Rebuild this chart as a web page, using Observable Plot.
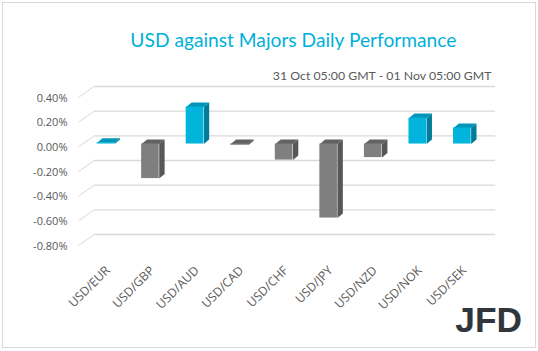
<!DOCTYPE html>
<html>
<head>
<meta charset="utf-8">
<script src="https://cdn.jsdelivr.net/npm/d3@7"></script>
<script src="https://cdn.jsdelivr.net/npm/@observablehq/plot@0.6"></script>
<style>
  html, body { margin: 0; padding: 0; background: #fff; }
  #wrap { position: relative; width: 538px; height: 351px; overflow: hidden; background: #fff; }
  #frame { position: absolute; left: 2px; top: 2px; width: 532px; height: 344px; border: 1px solid #d9d9d9; box-sizing: content-box; }
  #chart { position: absolute; left: 0; top: 0; }
  #over { position: absolute; left: 0; top: 0; pointer-events: none; }
</style>
</head>
<body>
<div id="wrap">
  <div id="frame"></div>
  <div id="chart"></div>
  <svg id="over" width="538" height="351">
    <text id="title" x="293.4" y="47" text-anchor="middle" fill="#00B0DA" font-family="Lato" font-size="19.2">USD against Majors Daily Performance</text>
    <text id="subtitle" x="491.4" y="79.5" text-anchor="end" fill="#595959" font-family="Lato" font-size="12.3">31 Oct 05:00 GMT - 01 Nov 05:00 GMT</text>
    <text id="logo" x="522" y="332.3" text-anchor="end" fill="#30363c" font-family="Liberation Sans" font-weight="bold" font-size="35" textLength="66.7" lengthAdjust="spacingAndGlyphs">JFD</text>
  </svg>
</div>
<script>
// ---- data ----
const categories = ["USD/EUR", "USD/GBP", "USD/AUD", "USD/CAD", "USD/CHF", "USD/JPY", "USD/NZD", "USD/NOK", "USD/SEK"];
const values = [0.01, -0.28, 0.30, -0.01, -0.13, -0.60, -0.11, 0.21, 0.13];
const yTicks = [0.4, 0.2, 0, -0.2, -0.4, -0.6, -0.8];

// ---- 3D geometry (pixel sizes converted into data units) ----
const bandPx = 44.56, unitPx = 123.3;
const wall = {dx: 15.7 / bandPx, dy: 11 / unitPx};
const barOff = {dx: 5.1 / bandPx, dy: 2.8 / unitPx};
const barDepth = {dx: 5.4 / bandPx, dy: 4.6 / unitPx};
const barHalf = 8.8 / bandPx;

const colors = {
  pos: {front: "#00B4DC", top: "#0096BA", side: "#007D9A"},
  neg: {front: "#7F7F7F", top: "#626262", side: "#575757"}
};

const fronts = [], faces = [];
categories.forEach((c, i) => {
  const v = values[i];
  const col = v >= 0 ? colors.pos : colors.neg;
  const cx = i + 0.5 + barOff.dx;
  const x1 = cx - barHalf, x2 = cx + barHalf;
  const yt = Math.max(v, 0) + barOff.dy, yb = Math.min(v, 0) + barOff.dy;
  fronts.push({x1, x2, y1: yb, y2: yt, fill: col.front});
  const ddx = barDepth.dx, ddy = barDepth.dy;
  [[x2, yt], [x2 + ddx, yt + ddy], [x2 + ddx, yb + ddy], [x2, yb]].forEach(([x, y]) => faces.push({id: c + "-side", x, y, fill: col.side}));
  [[x1, yt], [x2, yt], [x2 + ddx, yt + ddy], [x1 + ddx, yt + ddy]].forEach(([x, y]) => faces.push({id: c + "-top", x, y, fill: col.top}));
});

const font = "'Open Sans', sans-serif";

const plot = Plot.plot({
  width: 538,
  height: 351,
  marginLeft: 78,
  marginRight: 59,
  marginTop: 97,
  marginBottom: 106,
  style: {fontFamily: font, fontSize: "11px", color: "#595959", background: "transparent", overflow: "visible"},
  x: {domain: [0, categories.length], axis: null},
  y: {domain: [-0.8, 0.4], axis: null},
  color: {type: "identity"},
  marks: [
    // back wall gridlines
    Plot.link(yTicks, {x1: () => wall.dx, x2: () => categories.length + wall.dx, y1: d => d + wall.dy, y2: d => d + wall.dy, stroke: "#d9d9d9", strokeWidth: 1.4}),
    // side-wall diagonals
    Plot.link(yTicks, {x1: () => 0, x2: () => wall.dx, y1: d => d, y2: d => d + wall.dy, stroke: "#d9d9d9", strokeWidth: 1}),
    // bar side and top faces
    Plot.line(faces, {x: "x", y: "y", z: "id", fill: "fill", stroke: "none", curve: "linear-closed"}),
    // bar front faces
    Plot.rect(fronts, {x1: "x1", x2: "x2", y1: "y1", y2: "y2", fill: "fill"}),
    // y tick labels
    Plot.text(yTicks, {x: () => 0, y: d => d, text: d => d.toFixed(2) + "%", textAnchor: "end", dx: -11, dy: 0.5, fill: "#595959", fontSize: 11}),
    // x category labels
    Plot.text(categories, {x: (d, i) => i + 0.5, y: () => -0.8, text: d => d, rotate: -45, textAnchor: "end", lineAnchor: "middle", dx: 7, dy: 23, fill: "#595959", fontSize: 12.2})
  ]
});
document.getElementById("chart").appendChild(plot);
</script>
</body>
</html>
